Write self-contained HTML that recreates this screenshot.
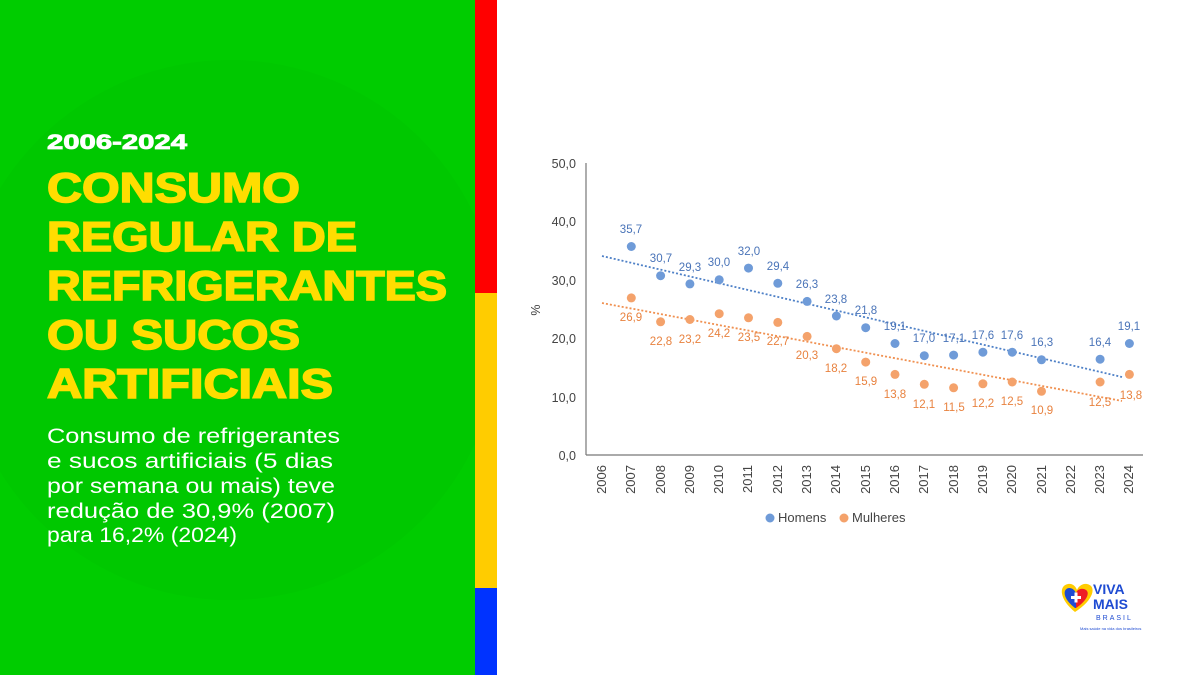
<!DOCTYPE html>
<html><head><meta charset="utf-8"><style>
body{margin:0;width:1200px;height:675px;overflow:hidden;background:#fff;font-family:"Liberation Sans",sans-serif}
</style></head><body>
<svg width="1200" height="675" viewBox="0 0 1200 675" xmlns="http://www.w3.org/2000/svg" style="position:absolute;left:0;top:0">
<defs><clipPath id="c"><rect x="0" y="0" width="475" height="675"/></clipPath></defs>
<rect x="0" y="0" width="475" height="675" fill="#00cc00"/>
<circle cx="230" cy="330" r="270" fill="#00c400" opacity="0.6" clip-path="url(#c)"/>
<rect x="475" y="0" width="22" height="293" fill="#ff0000"/>
<rect x="475" y="293" width="22" height="295" fill="#ffcc00"/>
<rect x="475" y="588" width="22" height="87" fill="#0033ff"/>
<g font-family="Liberation Sans, sans-serif" font-weight="bold">
<text x="47" y="149" fill="#fff" stroke="#fff" stroke-width="0.8" font-size="21" textLength="140" lengthAdjust="spacingAndGlyphs">2006-2024</text>
<g fill="#ffdd00" stroke="#ffdd00" stroke-width="1.6" font-size="42">
<text x="47" y="202" textLength="253" lengthAdjust="spacingAndGlyphs">CONSUMO</text>
<text x="47" y="251" textLength="310" lengthAdjust="spacingAndGlyphs">REGULAR DE</text>
<text x="47" y="300" textLength="400" lengthAdjust="spacingAndGlyphs">REFRIGERANTES</text>
<text x="47" y="349" textLength="253" lengthAdjust="spacingAndGlyphs">OU SUCOS</text>
<text x="47" y="398" textLength="286" lengthAdjust="spacingAndGlyphs">ARTIFICIAIS</text>
</g></g>
<g fill="#fff" font-size="21" font-family="Liberation Sans, sans-serif">
<text x="47" y="443" textLength="293" lengthAdjust="spacingAndGlyphs">Consumo de refrigerantes</text>
<text x="47" y="468" textLength="286" lengthAdjust="spacingAndGlyphs">e sucos artificiais (5 dias</text>
<text x="47" y="493" textLength="288" lengthAdjust="spacingAndGlyphs">por semana ou mais) teve</text>
<text x="47" y="518" textLength="288" lengthAdjust="spacingAndGlyphs">redução de 30,9% (2007)</text>
<text x="47" y="542" textLength="190" lengthAdjust="spacingAndGlyphs">para 16,2% (2024)</text>
</g>
<g font-family="Liberation Sans, sans-serif" font-size="12.5" fill="#444">
<line x1="586" y1="163" x2="586" y2="455" stroke="#777" stroke-width="1.2"/>
<line x1="586" y1="455" x2="1143" y2="455" stroke="#777" stroke-width="1.2"/>
<g text-anchor="end">
<text x="576" y="168">50,0</text><text x="576" y="226">40,0</text><text x="576" y="285">30,0</text>
<text x="576" y="343">20,0</text><text x="576" y="402">10,0</text><text x="576" y="460">0,0</text>
</g>
<text transform="translate(540,310) rotate(-90)" text-anchor="middle">%</text>
<g text-anchor="end" font-size="13">
<text transform="translate(606,465) rotate(-90)">2006</text><text transform="translate(635,465) rotate(-90)">2007</text>
<text transform="translate(665,465) rotate(-90)">2008</text><text transform="translate(694,465) rotate(-90)">2009</text>
<text transform="translate(723,465) rotate(-90)">2010</text><text transform="translate(752,465) rotate(-90)">2011</text>
<text transform="translate(782,465) rotate(-90)">2012</text><text transform="translate(811,465) rotate(-90)">2013</text>
<text transform="translate(840,465) rotate(-90)">2014</text><text transform="translate(870,465) rotate(-90)">2015</text>
<text transform="translate(899,465) rotate(-90)">2016</text><text transform="translate(928,465) rotate(-90)">2017</text>
<text transform="translate(958,465) rotate(-90)">2018</text><text transform="translate(987,465) rotate(-90)">2019</text>
<text transform="translate(1016,465) rotate(-90)">2020</text><text transform="translate(1046,465) rotate(-90)">2021</text>
<text transform="translate(1075,465) rotate(-90)">2022</text><text transform="translate(1104,465) rotate(-90)">2023</text>
<text transform="translate(1133,465) rotate(-90)">2024</text>
</g>
<line x1="602" y1="256" x2="1122" y2="377" stroke="#4f81c7" stroke-width="1.8" stroke-dasharray="2,2"/>
<line x1="602" y1="303" x2="1122" y2="401" stroke="#f09050" stroke-width="1.8" stroke-dasharray="2,2"/>
<g fill="#6f9bd8">
<circle cx="631.3" cy="246.5" r="4.5"/><circle cx="660.6" cy="275.7" r="4.5"/><circle cx="689.9" cy="283.9" r="4.5"/>
<circle cx="719.2" cy="279.8" r="4.5"/><circle cx="748.5" cy="268.1" r="4.5"/><circle cx="777.8" cy="283.3" r="4.5"/>
<circle cx="807.1" cy="301.4" r="4.5"/><circle cx="836.4" cy="316" r="4.5"/><circle cx="865.7" cy="327.7" r="4.5"/>
<circle cx="895" cy="343.5" r="4.5"/><circle cx="924.3" cy="355.7" r="4.5"/><circle cx="953.6" cy="355.1" r="4.5"/>
<circle cx="982.9" cy="352.2" r="4.5"/><circle cx="1012.2" cy="352.2" r="4.5"/><circle cx="1041.5" cy="359.8" r="4.5"/>
<circle cx="1100.1" cy="359.2" r="4.5"/><circle cx="1129.4" cy="343.5" r="4.5"/>
</g>
<g fill="#f4a26b">
<circle cx="631.3" cy="297.9" r="4.5"/><circle cx="660.6" cy="321.8" r="4.5"/><circle cx="689.9" cy="319.5" r="4.5"/>
<circle cx="719.2" cy="313.7" r="4.5"/><circle cx="748.5" cy="317.8" r="4.5"/><circle cx="777.8" cy="322.4" r="4.5"/>
<circle cx="807.1" cy="336.4" r="4.5"/><circle cx="836.4" cy="348.7" r="4.5"/><circle cx="865.7" cy="362.1" r="4.5"/>
<circle cx="895" cy="374.4" r="4.5"/><circle cx="924.3" cy="384.3" r="4.5"/><circle cx="953.6" cy="387.8" r="4.5"/>
<circle cx="982.9" cy="383.8" r="4.5"/><circle cx="1012.2" cy="382" r="4.5"/><circle cx="1041.5" cy="391.3" r="4.5"/>
<circle cx="1100.1" cy="382" r="4.5"/><circle cx="1129.4" cy="374.4" r="4.5"/>
</g>
<g fill="#4a74b8" text-anchor="middle" font-size="11.5">
<text x="631" y="233">35,7</text><text x="661" y="262">30,7</text><text x="690" y="271">29,3</text>
<text x="719" y="266">30,0</text><text x="749" y="255">32,0</text><text x="778" y="270">29,4</text>
<text x="807" y="288">26,3</text><text x="836" y="303">23,8</text><text x="866" y="314">21,8</text>
<text x="895" y="330">19,1</text><text x="924" y="342">17,0</text><text x="954" y="342">17,1</text>
<text x="983" y="339">17,6</text><text x="1012" y="339">17,6</text><text x="1042" y="346">16,3</text>
<text x="1100" y="346">16,4</text><text x="1129" y="330">19,1</text>
</g>
<g fill="#e8823f" text-anchor="middle" font-size="11.5">
<text x="631" y="321">26,9</text><text x="661" y="345">22,8</text><text x="690" y="343">23,2</text>
<text x="719" y="337">24,2</text><text x="749" y="341">23,5</text><text x="778" y="345">22,7</text>
<text x="807" y="359">20,3</text><text x="836" y="372">18,2</text><text x="866" y="385">15,9</text>
<text x="895" y="398">13,8</text><text x="924" y="408">12,1</text><text x="954" y="411">11,5</text>
<text x="983" y="407">12,2</text><text x="1012" y="405">12,5</text><text x="1042" y="414">10,9</text>
<text x="1100" y="406">12,5</text><text x="1131" y="399">13,8</text>
</g>
<circle cx="770" cy="518" r="4.5" fill="#6f9bd8"/><text x="778" y="522" font-size="13">Homens</text>
<circle cx="844" cy="518" r="4.5" fill="#f4a26b"/><text x="852" y="522" font-size="13">Mulheres</text>
</g>
<g>
<path d="M1075 612 C1060 600 1058 586 1068 584 C1073 583 1076 587 1077 590 C1078 587 1082 583 1087 584 C1097 586 1094 600 1075 612Z" fill="#ffcc00"/>
<path d="M1075 608 C1063 599 1062 589 1069 588 C1073 588 1075 591 1076 593 L1076 608Z" fill="#1e4bd2"/>
<path d="M1076 608 L1076 593 C1077 590 1080 588 1084 589 C1091 591 1088 600 1076 608Z" fill="#ee1c25"/>
<rect x="1071" y="596" width="10" height="3" fill="#fff"/><rect x="1074.5" y="592.5" width="3" height="10" fill="#fff"/>
<text x="1093" y="594" font-family="Liberation Sans, sans-serif" font-weight="bold" font-size="14" fill="#1e4bd2">VIVA</text>
<text x="1093" y="609" font-family="Liberation Sans, sans-serif" font-weight="bold" font-size="14" fill="#1e4bd2">MAIS</text>
<text x="1096" y="620" font-family="Liberation Sans, sans-serif" font-size="7" letter-spacing="2" fill="#1e4bd2">BRASIL</text>
<text x="1080" y="630" font-family="Liberation Sans, sans-serif" font-size="4" fill="#1e4bd2">Mais saúde na vida dos brasileiros</text>
</g>
</svg>
</body></html>
